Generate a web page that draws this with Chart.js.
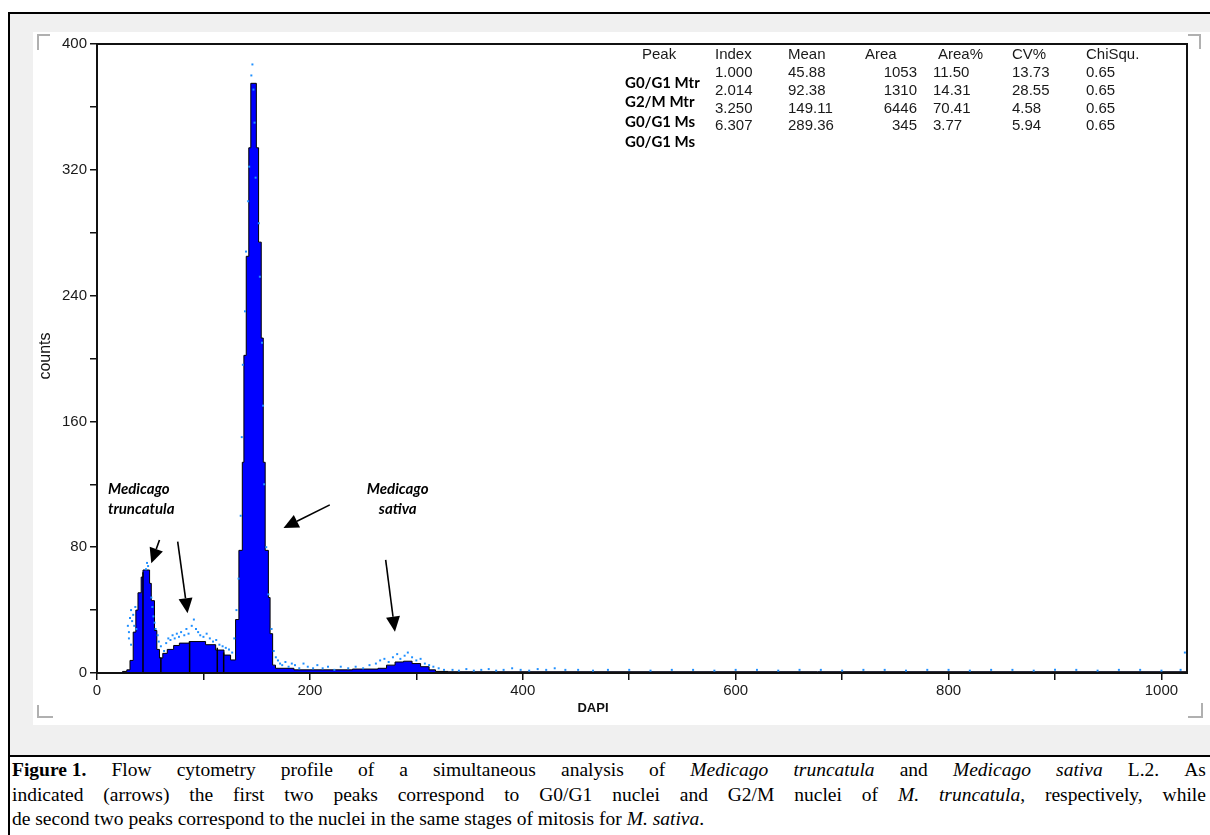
<!DOCTYPE html>
<html>
<head>
<meta charset="utf-8">
<script src="https://cdn.jsdelivr.net/npm/chart.js@4.4.1/dist/chart.umd.min.js"></script>
<style>
  html, body { margin: 0; padding: 0; background: #fff; width: 1210px; height: 835px; overflow: hidden; }
  #frame { position: absolute; left: 8px; top: 12px; width: 1202px; height: 823px; border-left: 2px solid #000; border-top: 2px solid #000; box-sizing: border-box; }
  #grey { position: absolute; left: 10px; top: 14px; width: 1200px; height: 742px; background: #f0f0f0; }
  #panel { position: absolute; left: 33px; top: 32px; width: 1177px; height: 693px; background: #fff; }
  #rule { position: absolute; left: 8px; top: 755px; width: 1202px; height: 2px; background: #000; }
  #caption { position: absolute; left: 12px; top: 758px; width: 1194px; font-family: "Liberation Serif", "Times New Roman", serif; font-size: 19.5px; line-height: 24.5px; color: #000; }
  #caption .j { white-space: nowrap; display: flex; justify-content: space-between; }
  #caption .l { white-space: nowrap; }
</style>
</head>
<body>
<div id="frame"></div>
<div id="grey"></div>
<div id="panel"><canvas id="fcm" width="1177" height="693"></canvas></div>
<div id="rule"></div>
<div id="caption"></div>

<script>
// histogram: left edge of each step (DAPI channel) and its count
const binStart = [0, 24, 28, 31, 34, 36.5, 38.5, 41.5, 43.2, 49.4, 51, 54, 56.2, 58.7, 61.8, 66, 72, 77.4, 86.7, 102, 111.5, 119.3, 125.5,
  130.2, 133.3, 136.5, 138, 140.2, 142.6, 144.5, 149.7, 151.8, 154.3, 156.2, 158, 161, 162.6, 165, 167.7, 185, 240,
  264, 272, 280, 288, 296, 304, 312, 318, 330, 1024];
const binCount = [0, 1, 2, 8, 26, 40, 51, 61, 65.5, 57, 46, 27, 15, 9.5, 12.5, 15, 17.5, 19, 20, 18, 14.6, 11.4, 8.3,
  34, 78, 134, 202, 265, 334, 375, 334, 274, 213, 134, 78, 48, 25, 5, 3, 2, 2.5,
  3, 5, 7, 7.5, 6, 4, 2, 1, 0.8, 0.8];

// black peak marker lines (channel, height)
const markerX = [43.2, 60, 87, 113, 119];
const markerH = [64, 10, 20, 16, 13];

// light blue event dots
const dotX = [29, 30, 31, 32, 33, 34, 35, 36, 37, 30, 32, 47, 48, 46,
  51, 52, 53, 54, 55, 57, 58, 60,
  63, 65, 67, 69, 71, 73, 75, 77, 79, 82, 84, 86, 89, 91, 93, 95, 97, 100, 103, 106, 109, 112, 115, 118, 121, 124, 127,
  146, 145, 147, 148, 143, 149, 142, 152, 140, 153, 139, 155, 137, 156, 136, 157, 135, 159, 133, 161, 131, 164, 129, 166,
  168, 170, 172, 174, 177, 180, 183, 186, 190, 194, 198, 203, 207, 212, 217, 223, 229, 236, 243, 250, 256, 262, 266, 270,
  274, 278, 282, 285, 289, 292, 296, 300, 304, 308, 312, 316, 321, 326,
  334, 340, 347, 354, 361, 368, 375, 382, 390, 398, 406, 414, 422, 430, 440, 452, 466, 480, 500, 520, 540, 560, 580, 600,
  620, 640, 660, 680, 700, 720, 740, 760, 780, 800, 820, 840, 860, 880, 900, 920, 940, 960, 980, 1000, 1018, 1022];
const dotY = [30, 26, 35, 40, 33, 37, 30, 42, 28, 22, 18, 70, 68, 66,
  48, 42, 36, 32, 28, 24, 20, 17,
  14, 19, 22, 21, 24, 22, 25, 23, 26, 24, 28, 25, 30, 34, 28, 26, 24, 23, 25, 22, 20, 21, 18, 17, 16, 15, 13,
  387, 380, 371, 350, 322, 315, 300, 286, 268, 252, 230, 210, 196, 170, 150, 120, 100, 80, 60, 50, 40, 28, 22, 14,
  10, 8, 6, 5, 7, 4, 6, 5, 3, 6, 4, 3, 5, 3, 4, 2, 4, 3, 4, 3, 5, 6, 8, 9,
  7, 10, 12, 9, 11, 13, 10, 8, 9, 6, 5, 4, 3, 2,
  2, 1.5, 2.5, 1.5, 2, 2.5, 1.5, 2, 3, 2, 1.5, 2.5, 2, 3, 2, 2, 1.5, 2, 2, 1.5, 2, 2, 1.5, 2,
  2, 1.5, 2, 2, 1.5, 2, 2, 1.5, 2, 2, 1.5, 2, 2, 1.5, 2, 2, 1.5, 2, 2, 1.5, 2, 13];

// axes
const xTickValues = [0, 100, 200, 300, 400, 500, 600, 700, 800, 900, 1000];
const xTickLabels = [0, 200, 400, 600, 800, 1000];
const yTickValues = [0, 40, 80, 120, 160, 200, 240, 280, 320, 360, 400];
const yTickLabels = [0, 80, 160, 240, 320, 400];

// peak statistics table
const peakNames = ['G0/G1 Mtr', 'G2/M Mtr', 'G0/G1 Ms', 'G0/G1 Ms'];
const peakIndex = ['1.000', '2.014', '3.250', '6.307'];
const peakMean = ['45.88', '92.38', '149.11', '289.36'];
const peakArea = ['1053', '1310', '6446', '345'];
const peakAreaPct = ['11.50', '14.31', '70.41', '3.77'];
const peakCV = ['13.73', '28.55', '4.58', '5.94'];
const peakChi = ['0.65', '0.65', '0.65', '0.65'];

// arrows (data coordinates)
const arrowFromX = [58.7, 75.8, 218.7, 271.2];
const arrowFromY = [84.6, 83.5, 106.9, 71.9];
const arrowToX = [51, 85.1, 175.2, 279.9];
const arrowToY = [69.8, 38, 92.2, 26.3];

const captionLines = [
  ['<b>Figure 1.</b>', 'Flow', 'cytometry', 'profile', 'of', 'a', 'simultaneous', 'analysis', 'of', '<i>Medicago</i>', '<i>truncatula</i>', 'and', '<i>Medicago</i>', '<i>sativa</i>', 'L.2.', 'As'],
  ['indicated', '(arrows)', 'the', 'first', 'two', 'peaks', 'correspond', 'to', 'G0/G1', 'nuclei', 'and', 'G2/M', 'nuclei', 'of', '<i>M.</i>', '<i>truncatula</i>,', 'respectively,', 'while'],
  'de second two peaks correspond to the nuclei in the same stages of mitosis for <i>M. sativa</i>.'
];

const cap = document.getElementById('caption');
captionLines.forEach(function (ln) {
  const d = document.createElement('div');
  if (Array.isArray(ln)) { d.className = 'j'; d.innerHTML = ln.map(w => '<span>' + w + '</span>').join(''); }
  else { d.className = 'l'; d.innerHTML = ln; }
  cap.appendChild(d);
});

const histData = binStart.map((x, i) => ({ x: x, y: binCount[i] }));
const markerData = [];
markerX.forEach((x, i) => { markerData.push({ x: x, y: 0 }, { x: x, y: markerH[i] }, { x: x, y: null }); });
const dotData = dotX.map((x, i) => ({ x: x, y: dotY[i] }));

function arrow(ctx, x0, y0, x1, y1) {
  const a = Math.atan2(y1 - y0, x1 - x0), L = 15, W = 7;
  const bx = x1 - L * Math.cos(a), by = y1 - L * Math.sin(a);
  ctx.beginPath(); ctx.moveTo(x0, y0); ctx.lineTo(bx, by); ctx.stroke();
  ctx.beginPath(); ctx.moveTo(x1, y1);
  ctx.lineTo(bx + W * Math.sin(a), by - W * Math.cos(a));
  ctx.lineTo(bx - W * Math.sin(a), by + W * Math.cos(a));
  ctx.closePath(); ctx.fill();
}

const extras = {
  id: 'extras',
  afterDraw(chart) {
    const ctx = chart.ctx, a = chart.chartArea, x = chart.scales.x, y = chart.scales.y;
    ctx.save();
    // plot box
    ctx.strokeStyle = '#111'; ctx.lineWidth = 2;
    ctx.strokeRect(a.left, a.top, a.right - a.left, a.bottom - a.top);

    // grey corner marks of the panel
    ctx.strokeStyle = '#b0b0b0'; ctx.lineWidth = 2;
    ctx.beginPath();
    ctx.moveTo(5, 18); ctx.lineTo(5, 3); ctx.lineTo(17, 3);
    ctx.moveTo(1155, 3); ctx.lineTo(1167, 3); ctx.lineTo(1167, 17);
    ctx.moveTo(5, 673); ctx.lineTo(5, 685); ctx.lineTo(20, 685);
    ctx.moveTo(1155, 685); ctx.lineTo(1169, 685); ctx.lineTo(1169, 671);
    ctx.stroke();

    // arrows
    ctx.strokeStyle = '#000'; ctx.fillStyle = '#000'; ctx.lineWidth = 1.6;
    arrowFromX.forEach((v, i) => arrow(ctx, x.getPixelForValue(v), y.getPixelForValue(arrowFromY[i]),
      x.getPixelForValue(arrowToX[i]), y.getPixelForValue(arrowToY[i])));

    // species labels
    ctx.font = 'italic bold 15px Lato';
    ctx.textBaseline = 'middle';
    ctx.textAlign = 'left';
    ctx.fillText('Medicago', x.getPixelForValue(10.3), y.getPixelForValue(117));
    ctx.fillText('truncatula', x.getPixelForValue(10.3), y.getPixelForValue(104.3));
    ctx.textAlign = 'center';
    ctx.fillText('Medicago', x.getPixelForValue(282.5), y.getPixelForValue(117));
    ctx.fillText('sativa', x.getPixelForValue(282.5), y.getPixelForValue(104.3));

    // statistics table
    const ox = -33, oy = -32;
    ctx.fillStyle = '#1a1a1a';
    ctx.font = '15px "Liberation Sans"';
    ctx.textAlign = 'left';
    const heads = [['Peak', 642], ['Index', 715], ['Mean', 788], ['Area', 865], ['Area%', 938], ['CV%', 1012], ['ChiSqu.', 1086]];
    heads.forEach(h => ctx.fillText(h[0], h[1] + ox, 55 + oy));
    const rowY = [73, 91, 109, 126];
    rowY.forEach((ry, i) => {
      ctx.textAlign = 'left';
      ctx.fillText(peakIndex[i], 715 + ox, ry + oy);
      ctx.fillText(peakMean[i], 788 + ox, ry + oy);
      ctx.fillText(peakAreaPct[i], 933 + ox, ry + oy);
      ctx.fillText(peakCV[i], 1012 + ox, ry + oy);
      ctx.fillText(peakChi[i], 1086 + ox, ry + oy);
      ctx.textAlign = 'right';
      ctx.fillText(peakArea[i], 917 + ox, ry + oy);
    });
    ctx.fillStyle = '#000';
    ctx.font = 'bold 15px Lato';
    ctx.textAlign = 'left';
    const labY = [83, 102, 122, 142];
    labY.forEach((ly, i) => ctx.fillText(peakNames[i], 625 + ox, ly + oy));

    // axis titles
    ctx.fillStyle = '#111';
    ctx.font = 'bold 13px "Liberation Sans"';
    ctx.textAlign = 'center';
    ctx.fillText('DAPI', 593 + ox, 708 + oy);
    ctx.translate(46 + ox, 356 + oy);
    ctx.rotate(-Math.PI / 2);
    ctx.font = '16px "Liberation Sans"';
    ctx.fillText('counts', 0, 0);
    ctx.restore();
  }
};

const tickFont = { family: 'Liberation Sans', size: 15 };

new Chart(document.getElementById('fcm'), {
  type: 'line',
  data: {
    datasets: [
      { type: 'scatter', data: dotData, pointStyle: 'rect', pointRadius: 1.4, backgroundColor: '#1f8fff', borderWidth: 0 },
      { data: markerData, borderColor: '#000', borderWidth: 1.5, pointRadius: 0, fill: false, spanGaps: false },
      { data: histData, stepped: 'before', fill: 'origin', backgroundColor: '#0000ff', borderColor: '#000', borderWidth: 1, pointRadius: 0 }
    ]
  },
  options: {
    responsive: false,
    animation: false,
    events: [],
    layout: { padding: { top: 12, right: 23, left: 0, bottom: 0 } },
    plugins: { legend: { display: false }, tooltip: { enabled: false } },
    scales: {
      x: {
        type: 'linear', min: 0, max: 1024,
        afterBuildTicks: s => { s.ticks = xTickValues.map(v => ({ value: v })); },
        afterFit: s => { s.height = 52; },
        grid: { drawOnChartArea: false, tickLength: 7, color: '#111', lineWidth: 1.5 },
        border: { color: '#111', width: 2 },
        ticks: { autoSkip: false, maxRotation: 0, padding: 2, color: '#1a1a1a', font: tickFont,
          callback: v => xTickLabels.includes(v) ? String(v) : '' }
      },
      y: {
        min: 0, max: 400,
        afterBuildTicks: s => { s.ticks = yTickValues.map(v => ({ value: v })); },
        afterFit: s => { s.width = 64; },
        grid: { drawOnChartArea: false, tickLength: 7, color: '#111', lineWidth: 1.5 },
        border: { color: '#111', width: 2 },
        ticks: { autoSkip: false, padding: 3, color: '#1a1a1a', font: tickFont,
          callback: v => yTickLabels.includes(v) ? String(v) : '' }
      }
    }
  },
  plugins: [extras]
});
</script>
</body>
</html>
